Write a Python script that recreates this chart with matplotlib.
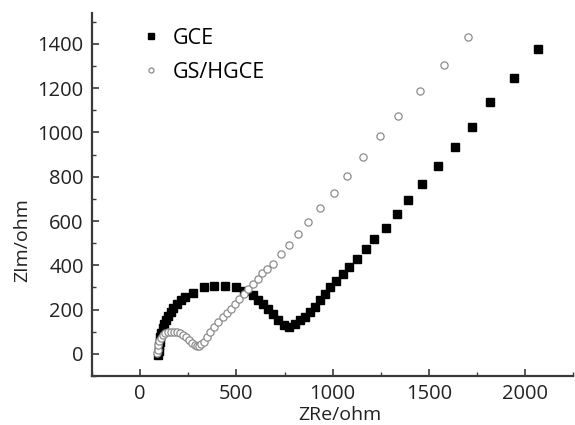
import matplotlib
matplotlib.use("Agg")
import matplotlib.pyplot as plt
from matplotlib.ticker import MultipleLocator

# --- data ---
gce_x = [95, 96, 98, 101, 105, 110, 117, 125, 134, 145, 158, 173, 190, 210, 233,
         276, 332, 385, 440, 496, 540, 584, 613, 639, 665, 691, 717, 746, 774, 803,
         829, 855, 881, 907, 933, 959, 988, 1016, 1054, 1085, 1126, 1174, 1214, 1276, 1335,
         1394, 1466, 1546, 1634, 1722, 1819, 1943, 2065]
gce_y = [-5, 15, 35, 55, 75, 95, 115, 135, 155, 172, 190, 208, 225, 242, 257,
         277, 300, 306, 306, 300, 283, 265, 245, 227, 205, 182, 152, 130, 122, 133,
         152, 167, 190, 212, 242, 272, 300, 330, 360, 393, 427, 476, 521, 569, 632,
         697, 767, 847, 934, 1024, 1137, 1244, 1375]

hg_x = [90, 92, 95, 100, 108, 118, 130, 144, 160, 176, 192, 208, 224, 240, 256,
        270, 283, 295, 306, 318, 330, 345, 363, 383, 406, 428, 449, 470, 492, 515,
        539, 561, 587, 613, 635, 660, 688, 731, 774, 820, 872, 933, 1005, 1076, 1157,
        1247, 1342, 1456, 1577, 1705]
hg_y = [5, 20, 40, 58, 72, 84, 93, 98, 101, 101, 99, 94, 86, 75, 62,
        50, 40, 34, 36, 44, 55, 75, 99, 122, 144, 167, 185, 205, 227, 250,
        272, 295, 318, 340, 366, 385, 408, 449, 494, 543, 596, 660, 727, 802, 888,
        982, 1076, 1187, 1306, 1431]

labels = ["GCE", "GS/HGCE"]

plt.rcParams["font.family"] = ["Open Sans", "DejaVu Sans"]
plt.rcParams["font.size"] = 14.5

fig = plt.figure(figsize=(5.75, 4.25), dpi=100)
ax = fig.add_axes([0.16, 0.115, 0.837, 0.855])

ax.plot(gce_x, gce_y, linestyle="none", marker="s", markersize=5.2,
        color="black", label=labels[0])
ax.plot(hg_x, hg_y, linestyle="none", marker="o", markersize=5.2,
        markerfacecolor="white", markeredgecolor="#8c8c8c", markeredgewidth=0.9,
        label=labels[1])

ax.set_xlim(-250, 2250)
ax.set_ylim(-100, 1540)
ax.xaxis.set_major_locator(MultipleLocator(500))
ax.xaxis.set_minor_locator(MultipleLocator(250))
ax.yaxis.set_major_locator(MultipleLocator(200))
ax.yaxis.set_minor_locator(MultipleLocator(100))

for s in ["top", "right"]:
    ax.spines[s].set_visible(False)
for s in ["left", "bottom"]:
    ax.spines[s].set_linewidth(1.6)
    ax.spines[s].set_color("#3a3a3a")

ax.tick_params(which="major", direction="in", length=5, width=1.2,
               color="#3a3a3a", labelcolor="#222222", pad=6)
ax.tick_params(which="minor", direction="in", length=3, width=1.0, color="#3a3a3a")

ax.set_xlabel("ZRe/ohm", color="#222222", va="center", fontsize=14)
ax.set_ylabel("ZIm/ohm", color="#222222", va="center", fontsize=14)
ax.xaxis.set_label_coords(0.516, -0.108)
ax.yaxis.set_label_coords(-0.145, 0.375)

ax.legend(loc="upper left", bbox_to_anchor=(0.11, 0.958), frameon=False,
          handlelength=0.6, handletextpad=0.7, labelspacing=0.6,
          markerscale=0.7, numpoints=1, borderaxespad=0, borderpad=0,
          fontsize=15.5)

fig.savefig("out.png", dpi=100)
